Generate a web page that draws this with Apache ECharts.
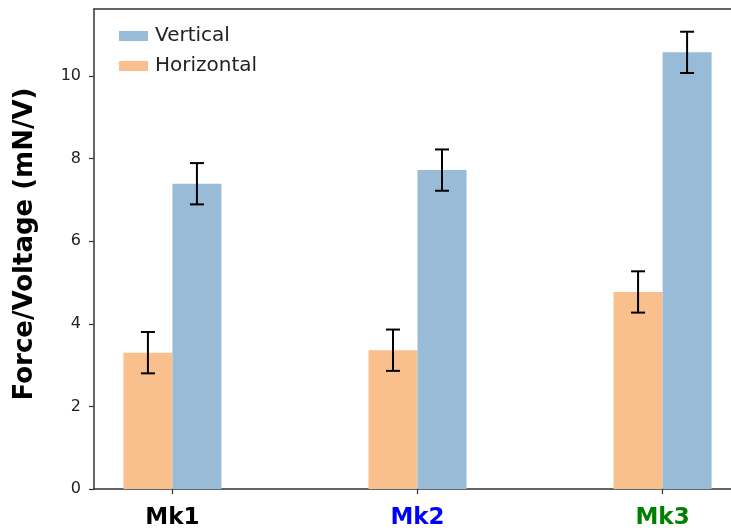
<!DOCTYPE html>
<html>
<head>
<meta charset="utf-8">
<script src="https://cdn.jsdelivr.net/npm/echarts@6/dist/echarts.min.js"></script>
<style>
html,body{margin:0;padding:0;background:#fff;overflow:hidden;width:731px;height:530px;}
#chart{width:741px;height:530px;}
</style>
</head>
<body>
<div id="chart"></div>
<script>
var categories = ['Mk1', 'Mk2', 'Mk3'];
var categoryColors = ['#000000', '#0000ff', '#008000'];
var horizontalValues = [3.30, 3.36, 4.77];
var horizontalErrors = [0.50, 0.50, 0.50];
var verticalValues = [7.39, 7.72, 10.57];
var verticalErrors = [0.50, 0.50, 0.50];
var yTicks = [0, 2, 4, 6, 8, 10];

var FONT = 'DejaVu Sans';
var xMin = -0.32, xMax = 2.32;
var chartW = 741;
var gridLeft = 94, gridRight = 0, gridTop = 9, gridBottom = 40;
var plotW = chartW - gridLeft - gridRight;
var barW = 0.2 * plotW / (xMax - xMin);

var positions = categories.map(function (c, i) { return i; });

var chart = echarts.init(document.getElementById('chart'), null, {renderer: 'canvas'});

function errData(vals, errs, off) {
  return vals.map(function (v, i) { return [i + off, v - errs[i], v + errs[i]]; });
}

function renderErr(params, api) {
  var x = api.value(0);
  var lo = api.coord([x, api.value(1)]);
  var hi = api.coord([x, api.value(2)]);
  var cap = 7;
  var st = {stroke: '#000', lineWidth: 2};
  return {
    type: 'group',
    children: [
      {type: 'line', shape: {x1: lo[0], y1: lo[1], x2: hi[0], y2: hi[1]}, style: st},
      {type: 'line', shape: {x1: lo[0] - cap, y1: lo[1], x2: lo[0] + cap, y2: lo[1]}, style: st},
      {type: 'line', shape: {x1: hi[0] - cap, y1: hi[1], x2: hi[0] + cap, y2: hi[1]}, style: st}
    ]
  };
}

var richLabel = {};
categories.forEach(function (c, i) {
  richLabel['c' + i] = {color: categoryColors[i], fontWeight: 'bold', fontSize: 23, fontFamily: FONT};
});

var option = {
  animation: false,
  backgroundColor: '#ffffff',
  grid: {left: gridLeft, right: gridRight, top: gridTop, bottom: gridBottom, containLabel: false},
  legend: {
    orient: 'vertical',
    left: 114,
    top: 21,
    itemWidth: 29,
    itemHeight: 10,
    itemGap: 10,
    icon: 'rect',
    data: ['Vertical', 'Horizontal'],
    textStyle: {fontFamily: FONT, fontSize: 20, color: '#222222', padding: [0, 0, 0, 2]}
  },
  xAxis: [{
    type: 'value',
    min: xMin,
    max: xMax,
    splitLine: {show: false},
    axisLine: {show: true, onZero: false, lineStyle: {color: '#333333', width: 1.5}},
    axisTick: {show: true, customValues: positions, length: 5, lineStyle: {color: '#333333', width: 1.2}},
    axisLabel: {
      show: true,
      customValues: positions,
      margin: 18,
      formatter: function (v) {
        var i = Math.round(v);
        return '{c' + i + '|' + categories[i] + '}';
      },
      rich: richLabel
    }
  }, {
    type: 'value',
    position: 'top',
    min: xMin,
    max: xMax,
    splitLine: {show: false},
    axisLine: {show: true, onZero: false, lineStyle: {color: '#333333', width: 1.5}},
    axisTick: {show: false},
    axisLabel: {show: false}
  }],
  yAxis: {
    type: 'value',
    min: 0,
    max: 11.62,
    name: 'Force/Voltage (mN/V)',
    nameLocation: 'middle',
    nameRotate: 90,
    nameGap: 56,
    nameTextStyle: {fontFamily: FONT, fontSize: 26, fontWeight: 'bold', color: '#000000', padding: [0, 0, 0, 10]},
    splitLine: {show: false},
    axisLine: {show: true, onZero: false, lineStyle: {color: '#333333', width: 1.5}},
    axisTick: {show: true, customValues: yTicks, length: 5, lineStyle: {color: '#333333', width: 1.2}},
    axisLabel: {show: true, customValues: yTicks, margin: 13, fontFamily: FONT, fontSize: 16, color: '#222222'}
  },
  series: [{
    name: 'Horizontal',
    type: 'bar',
    xAxisIndex: 0,
    barWidth: barW,
    barGap: '0%',
    itemStyle: {color: '#f9bf8c'},
    data: horizontalValues.map(function (v, i) { return [positions[i], v]; })
  }, {
    name: 'Vertical',
    type: 'bar',
    xAxisIndex: 0,
    barWidth: barW,
    barGap: '0%',
    itemStyle: {color: '#98bcd8'},
    data: verticalValues.map(function (v, i) { return [positions[i], v]; })
  }, {
    type: 'custom',
    xAxisIndex: 0,
    renderItem: renderErr,
    z: 5,
    data: errData(horizontalValues, horizontalErrors, -0.1)
  }, {
    type: 'custom',
    xAxisIndex: 0,
    renderItem: renderErr,
    z: 5,
    data: errData(verticalValues, verticalErrors, 0.1)
  }]
};
chart.setOption(option);
</script>
</body>
</html>
